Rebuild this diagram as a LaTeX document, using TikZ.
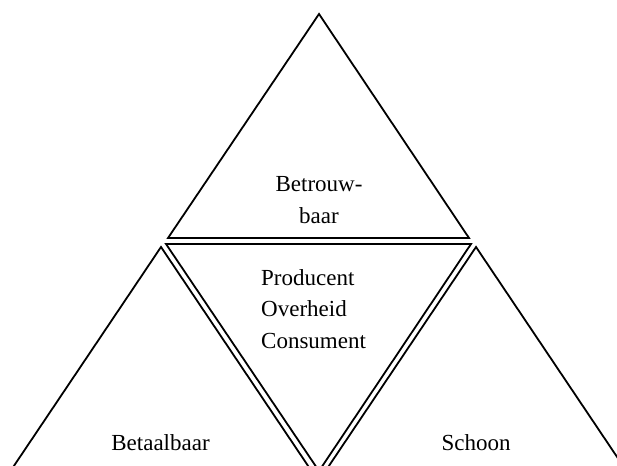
\documentclass[tikz,border=0pt]{standalone}
\usepackage{fontspec}
\setmainfont{Liberation Serif}

\begin{document}
\begin{tikzpicture}[x=1pt,y=-1pt,
  tri/.style={draw=black,line width=1.8pt,line join=miter},
  lbl/.style={font=\fontsize{23}{31.5}\selectfont,inner sep=0pt}]
\useasboundingbox (0,0) rectangle (617,465);
\clip (0,0) rectangle (617,465);
\draw [tri] (319, 14) -- (168,238) -- (469,238) -- cycle;
\draw [tri] (166,244) -- (471,244) -- (319,471) -- cycle;
\draw [tri] (161,247) -- (311.5,471) -- (10.5,471) -- cycle;
\draw [tri] (476,247) -- (626.5,471) -- (325.5,471) -- cycle;
\node at (319,223) (top) [lbl,anchor=base,align=center] {Betrouw-\\baar};
\node at (261,348) (mid) [lbl,anchor=base west,align=left] {Producent\\Overheid\\Consument};
\node at (160.5,450) (left) [lbl,anchor=base] {Betaalbaar};
\node at (476,450) (right) [lbl,anchor=base] {Schoon};
\end{tikzpicture}
\end{document}
